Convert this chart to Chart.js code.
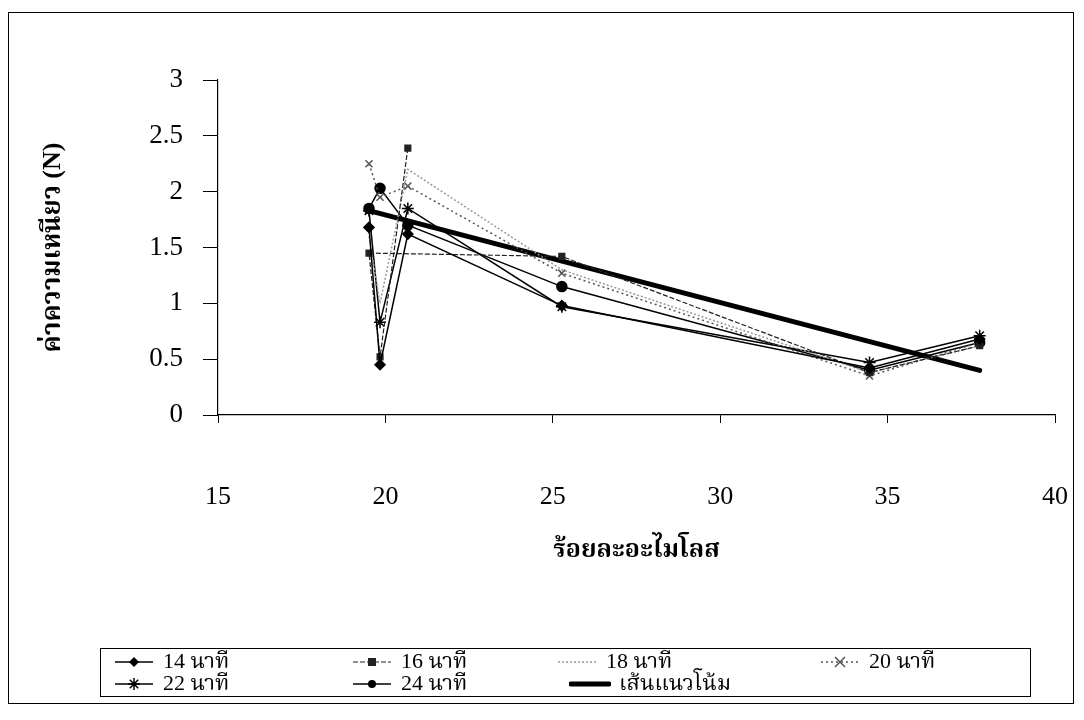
<!DOCTYPE html>
<html>
<head>
<meta charset="utf-8">
<script src="https://cdn.jsdelivr.net/npm/chart.js@4/dist/chart.umd.min.js"></script>
<style>
  html, body { margin: 0; padding: 0; background: #fff; }
  #wrap { position: relative; width: 1084px; height: 720px; }
  #frame { position: absolute; left: 8px; top: 12px; width: 1066px; height: 692px; border: 1.5px solid #000; box-sizing: border-box; pointer-events: none; }
  #legend { position: absolute; left: 100px; top: 648px; width: 931px; height: 49px; border: 1px solid #000; box-sizing: border-box; font-family: 'Liberation Serif', 'Noto Serif Thai', serif; font-size: 22px; color: #000; }
  .item { position: absolute; display: flex; align-items: center; height: 22px; }
  .item svg { margin-right: 8px; }
  canvas { position: absolute; left: 0; top: 0; }
</style>
</head>
<body>
<div id="wrap">
  <canvas id="c" width="1084" height="720"></canvas>
  <div id="frame"></div>
  <div id="legend"></div>
</div>
<script>
// ---- data ----
const amylose   = [19.51, 19.84, 20.67, 25.27, 34.46, 37.75];
const amylose16 = [20.67, 19.84, 19.51, 25.27, 34.46, 37.75];
const min14 = [1.68, 0.45, 1.62, 0.98, 0.42, 0.68];
const min16 = [2.39, 0.52, 1.45, 1.42, 0.38, 0.62];
const min18 = [1.60, 1.00, 2.20, 1.30, 0.38, 0.62];
const min20 = [2.25, 1.95, 2.05, 1.27, 0.35, 0.65];
const min22 = [1.83, 0.83, 1.85, 0.97, 0.47, 0.71];
const min24 = [1.85, 2.03, 1.70, 1.15, 0.40, 0.65];
const trendX = [19.51, 37.75];
const trendY = [1.83, 0.40];
const seriesLabels = ['14 นาที', '16 นาที', '18 นาที', '20 นาที', '22 นาที', '24 นาที', 'เส้นแนวโน้ม'];
const xTicks = [15, 20, 25, 30, 35, 40];
const yTicks = [0, 0.5, 1, 1.5, 2, 2.5, 3];
const yTickLabels = ['0', '0.5', '1', '1.5', '2', '2.5', '3'];
const xTitle = 'ร้อยละอะไมโลส';
const yTitle = 'ค่าความเหนียว (N)';

function pts(xs, ys) { return xs.map((x, i) => ({ x: x, y: ys[i] })); }

const styles = [
  { pointStyle: 'rectRot', radius: 5, color: '#000', width: 1.5, dash: [] },
  { pointStyle: 'rect', radius: 4, color: '#222', width: 1.2, dash: [5, 2] },
  { pointStyle: 'circle', radius: 0, color: '#999', width: 1.5, dash: [2, 2] },
  { pointStyle: 'crossRot', radius: 5, color: '#555', width: 1.5, dash: [2, 3] },
  { pointStyle: 'star', radius: 6, color: '#000', width: 1.5, dash: [] },
  { pointStyle: 'circle', radius: 5, color: '#000', width: 1.5, dash: [] },
  { pointStyle: 'line', radius: 0, color: '#000', width: 5, dash: [] }
];

const dataSets = [
  pts(amylose, min14), pts(amylose16, min16), pts(amylose, min18),
  pts(amylose, min20), pts(amylose, min22), pts(amylose, min24), pts(trendX, trendY)
];

const datasets = dataSets.map((d, i) => ({
  label: seriesLabels[i],
  data: d,
  showLine: true,
  borderColor: styles[i].color,
  backgroundColor: styles[i].color,
  borderWidth: styles[i].width,
  borderDash: styles[i].dash,
  borderCapStyle: i === 6 ? 'round' : 'butt',
  pointStyle: styles[i].pointStyle,
  pointRadius: styles[i].radius,
  pointBorderWidth: 1.5,
  pointBorderColor: styles[i].color,
  pointBackgroundColor: styles[i].color,
  tension: 0
}));

const serif = "'Liberation Serif', 'Noto Serif Thai', serif";

new Chart(document.getElementById('c'), {
  type: 'scatter',
  data: { datasets: datasets },
  options: {
    responsive: false,
    animation: false,
    layout: { padding: { left: 30, top: 80, right: 29, bottom: 154 } },
    plugins: { legend: { display: false }, tooltip: { enabled: false } },
    scales: {
      x: {
        type: 'linear', min: 15, max: 40,
        afterBuildTicks: s => { s.ticks = xTicks.map(v => ({ value: v })); },
        afterFit: s => { s.height = 151; s.paddingLeft = 0; s.paddingRight = 0; },
        border: { display: true, color: '#000', width: 1.2 },
        grid: { drawOnChartArea: false, drawTicks: true, tickLength: 8, color: '#000' },
        ticks: { color: '#000', padding: 59, font: { family: serif, size: 26 }, maxRotation: 0 },
        title: { display: true, text: xTitle, color: '#000', padding: 0, font: { family: serif, size: 25, weight: 'bold' } }
      },
      y: {
        type: 'linear', min: 0, max: 3,
        afterBuildTicks: s => { s.ticks = yTicks.map(v => ({ value: v })); },
        afterFit: s => { s.width = 188; },
        border: { display: true, color: '#000', width: 1.2 },
        grid: { drawOnChartArea: false, drawTicks: true, tickLength: 15, color: '#000' },
        ticks: {
          color: '#000', padding: 20, font: { family: serif, size: 27 },
          callback: (v) => { const k = yTicks.indexOf(v); return k >= 0 ? yTickLabels[k] : ''; }
        },
        title: { display: true, text: yTitle, color: '#000', padding: 8, font: { family: serif, size: 26, weight: 'bold' } }
      }
    }
  }
});

// ---- HTML legend ----
const legendPos = [
  { x: 12, y: 2 }, { x: 250, y: 2 }, { x: 455, y: 2 }, { x: 718, y: 2 },
  { x: 12, y: 24 }, { x: 250, y: 24 }, { x: 468, y: 24 }
];
const lg = document.getElementById('legend');
seriesLabels.forEach((lab, i) => {
  const st = styles[i];
  const w = 42, h = 20, cy = h / 2, cx = w / 2;
  let marker = '';
  if (st.radius > 0) {
    const r = st.radius;
    if (st.pointStyle === 'rectRot') marker = `<polygon points="${cx},${cy - r} ${cx + r},${cy} ${cx},${cy + r} ${cx - r},${cy}" fill="#000"/>`;
    else if (st.pointStyle === 'rect') marker = `<rect x="${cx - r}" y="${cy - r}" width="${2 * r}" height="${2 * r}" fill="#222"/>`;
    else if (st.pointStyle === 'circle') marker = `<circle cx="${cx}" cy="${cy}" r="${r - 1}" fill="#000"/>`;
    else if (st.pointStyle === 'crossRot') marker = `<path d="M${cx - r} ${cy - r}L${cx + r} ${cy + r}M${cx + r} ${cy - r}L${cx - r} ${cy + r}" stroke="#555" stroke-width="1.5"/>`;
    else if (st.pointStyle === 'star') marker = `<path d="M${cx - r} ${cy}L${cx + r} ${cy}M${cx} ${cy - r}L${cx} ${cy + r}M${cx - r * 0.7} ${cy - r * 0.7}L${cx + r * 0.7} ${cy + r * 0.7}M${cx + r * 0.7} ${cy - r * 0.7}L${cx - r * 0.7} ${cy + r * 0.7}" stroke="#000" stroke-width="1.5"/>`;
  }
  const dash = st.dash.length ? `stroke-dasharray="${st.dash.join(',')}"` : '';
  const cap = i === 6 ? 'stroke-linecap="round"' : '';
  const svg = `<svg width="${w}" height="${h}"><line x1="2" y1="${cy}" x2="${w - 2}" y2="${cy}" stroke="${st.color}" stroke-width="${st.width}" ${dash} ${cap}/>${marker}</svg>`;
  const d = document.createElement('div');
  d.className = 'item';
  d.style.left = legendPos[i].x + 'px';
  d.style.top = legendPos[i].y + 'px';
  d.innerHTML = svg + '<span>' + lab + '</span>';
  lg.appendChild(d);
});
</script>
</body>
</html>
